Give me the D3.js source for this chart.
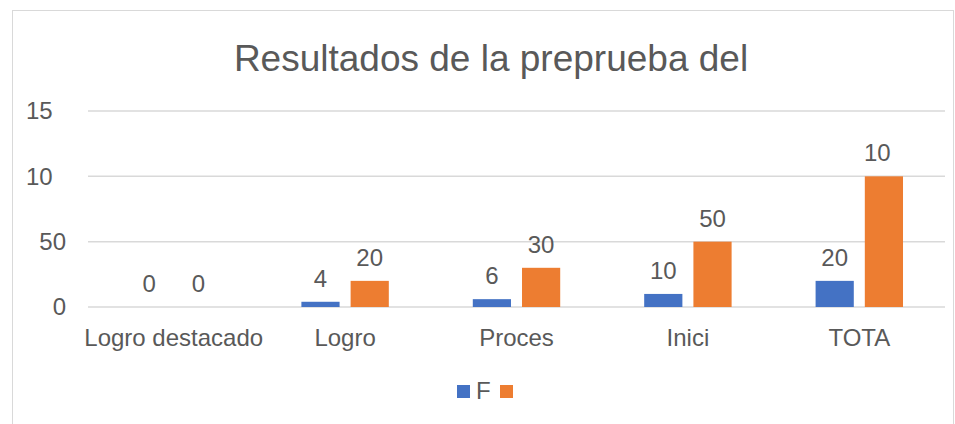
<!DOCTYPE html>
<html>
<head>
<meta charset="utf-8">
<script src="https://cdn.jsdelivr.net/npm/d3@7"></script>
<style>
  html, body { margin: 0; padding: 0; background: #fff; }
  svg { display: block; font-family: "Liberation Sans", Arial, sans-serif; }
</style>
</head>
<body>
<script>
// chart data
const categories = ["Logro destacado", "Logro", "Proces", "Inici", "TOTA"];
const seriesNames = ["F", ""];
const fValues = [0, 4, 6, 10, 20];
const pValues = [0, 20, 30, 50, 100];
// labels as they appear (some are cut off in the original)
const fLabels = ["0", "4", "6", "10", "20"];
const pLabels = ["0", "20", "30", "50", "10"];
const yTicks = [0, 50, 100, 150];
const yTickLabels = ["0", "50", "10", "15"];
const title = "Resultados de la preprueba del";

const width = 955;
const height = 424;
const colors = ["#4472C4", "#ED7D31"];
const textColor = "#595959";
const fontSize = 24;
const digitW = fontSize * 0.556;

const svg = d3
  .select("body")
  .append("svg")
  .attr("width", width)
  .attr("height", height);

// chart frame
svg
  .append("rect")
  .attr("x", 12.5)
  .attr("y", 10.5)
  .attr("width", 941)
  .attr("height", 430)
  .attr("fill", "#fff")
  .attr("stroke", "#d9d9d9");

// title
svg
  .append("text")
  .attr("x", 491)
  .attr("y", 71)
  .attr("text-anchor", "middle")
  .attr("fill", textColor)
  .style("font-size", "37px")
  .text(title);

const x0 = d3
  .scaleBand()
  .domain(categories)
  .range([88, 945])
  .paddingInner(0.49)
  .paddingOuter(0.245);

const x1 = d3
  .scaleBand()
  .domain([0, 1])
  .range([0, x0.bandwidth()])
  .paddingInner(0.224);

const y = d3.scaleLinear().domain([0, 150]).range([307, 111]);

// gridlines
svg
  .selectAll(".grid")
  .data(yTicks)
  .join("line")
  .attr("class", "grid")
  .attr("x1", 88)
  .attr("x2", 945)
  .attr("y1", (d) => y(d))
  .attr("y2", (d) => y(d))
  .attr("stroke", "#d9d9d9")
  .attr("stroke-width", 1.5);

// y tick labels, right aligned; cut labels lose their last digit
svg
  .selectAll(".ytick")
  .data(yTicks)
  .join("text")
  .attr("class", "ytick")
  .attr("x", (d, i) => 66 - (String(d).length - yTickLabels[i].length) * digitW)
  .attr("y", (d) => y(d))
  .attr("dy", "0.35em")
  .attr("text-anchor", "end")
  .attr("fill", textColor)
  .style("font-size", fontSize + "px")
  .text((d, i) => yTickLabels[i]);

// bars
const series = [
  { values: fValues, labels: fLabels },
  { values: pValues, labels: pLabels },
];

series.forEach((s, si) => {
  const rows = categories.map((c, i) => ({ c, v: s.values[i], label: s.labels[i] }));

  svg
    .selectAll(".bar" + si)
    .data(rows)
    .join("rect")
    .attr("class", "bar" + si)
    .attr("x", (d) => x0(d.c) + x1(si))
    .attr("width", x1.bandwidth())
    .attr("y", (d) => y(d.v))
    .attr("height", (d) => y(0) - y(d.v))
    .attr("fill", colors[si]);

  svg
    .selectAll(".lbl" + si)
    .data(rows)
    .join("text")
    .attr("class", "lbl" + si)
    .attr("x", (d) => x0(d.c) + x1(si) + x1.bandwidth() / 2 - ((String(d.v).length - d.label.length) * digitW) / 2)
    .attr("y", (d) => y(d.v) - 15)
    .attr("text-anchor", "middle")
    .attr("fill", textColor)
    .style("font-size", fontSize + "px")
    .text((d) => d.label);
});

// category labels
svg
  .selectAll(".xlab")
  .data(categories)
  .join("text")
  .attr("class", "xlab")
  .attr("x", (d) => x0(d) + x0.bandwidth() / 2)
  .attr("y", 346)
  .attr("text-anchor", "middle")
  .attr("fill", textColor)
  .style("font-size", fontSize + "px")
  .text((d) => d);

// legend
const legend = svg.append("g").attr("transform", "translate(457,385)");
let lx = 0;
seriesNames.forEach((name, i) => {
  legend
    .append("rect")
    .attr("x", lx)
    .attr("y", 0)
    .attr("width", 13)
    .attr("height", 13)
    .attr("fill", colors[i]);
  lx += 19;
  if (name) {
    legend
      .append("text")
      .attr("x", lx)
      .attr("y", 14)
      .attr("fill", textColor)
      .style("font-size", fontSize + "px")
      .text(name);
    lx += 24;
  }
});
</script>
</body>
</html>
